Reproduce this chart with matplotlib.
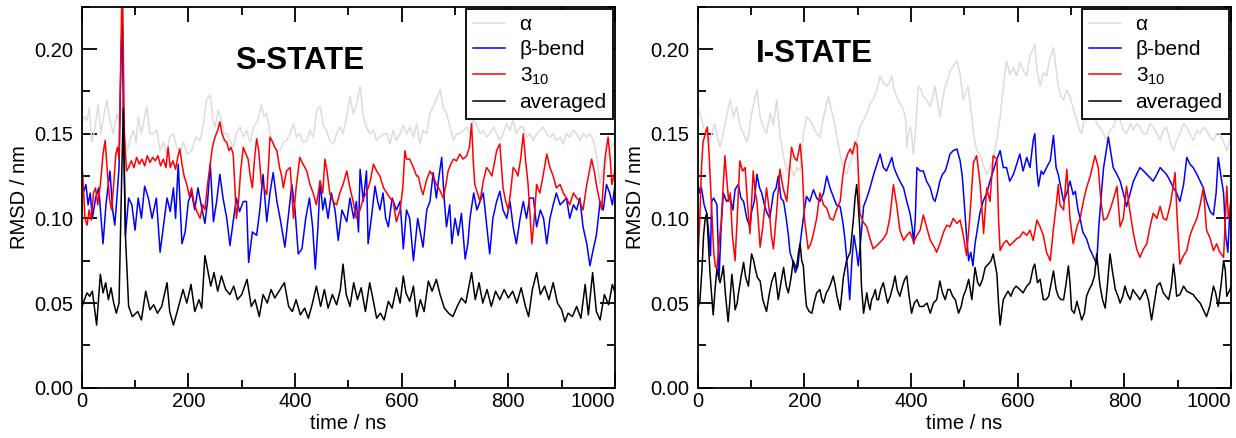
import matplotlib
matplotlib.use("Agg")
import matplotlib.pyplot as plt
from matplotlib.ticker import MultipleLocator, FormatStrFormatter

plt.rcParams['font.family'] = ['Liberation Sans', 'DejaVu Sans']
plt.rcParams['mathtext.fontset'] = 'custom'
plt.rcParams['mathtext.rm'] = 'Liberation Sans'

# ---------------- S-STATE ----------------
s_alpha_t = [0, 5, 10, 14, 19, 24, 31, 36, 41, 47, 53, 59, 66, 72, 76, 80, 86, 92, 97, 102, 106, 112, 117, 122,
             128, 134, 141, 147, 153, 159, 165, 172, 178, 185, 191, 198, 206, 214, 222, 228, 234, 241, 246, 250,
             256, 262, 267, 272, 278, 284, 290, 297, 303, 309, 316, 322, 330, 337, 342, 347, 353, 359, 365, 372,
             378, 384, 391, 397, 403, 409, 415, 422, 428, 434, 441, 447, 453, 459, 465, 472, 478, 484, 490, 497,
             503, 509, 516, 522, 528, 534, 540, 547, 553, 559, 566, 572, 578, 584, 590, 597, 603, 609, 616, 622,
             628, 634, 640, 647, 653, 659, 665, 672, 678, 684, 690, 697, 703, 709, 716, 722, 728, 734, 740, 747,
             753, 759, 765, 772, 778, 784, 790, 797, 803, 809, 815, 822, 828, 834, 840, 847, 853, 859, 865, 872,
             878, 884, 890, 897, 903, 909, 915, 922, 928, 934, 940, 947, 953, 959, 965, 972, 978, 984, 990, 997, 1000]
s_alpha = [0.155, 0.160, 0.158, 0.165, 0.145, 0.152, 0.167, 0.150, 0.160, 0.170, 0.158, 0.150, 0.162, 0.155, 0.170,
           0.150, 0.140, 0.148, 0.152, 0.145, 0.160, 0.150, 0.158, 0.166, 0.150, 0.150, 0.152, 0.140, 0.145, 0.138,
           0.148, 0.150, 0.142, 0.140, 0.145, 0.138, 0.140, 0.148, 0.146, 0.155, 0.170, 0.173, 0.158, 0.154, 0.164,
           0.158, 0.150, 0.150, 0.146, 0.142, 0.150, 0.154, 0.148, 0.152, 0.145, 0.154, 0.158, 0.167, 0.160, 0.162,
           0.150, 0.144, 0.140, 0.140, 0.145, 0.146, 0.150, 0.156, 0.148, 0.150, 0.145, 0.146, 0.152, 0.148, 0.164,
           0.166, 0.155, 0.152, 0.146, 0.144, 0.150, 0.154, 0.150, 0.160, 0.172, 0.162, 0.168, 0.178, 0.160, 0.154,
           0.150, 0.152, 0.146, 0.148, 0.150, 0.150, 0.144, 0.152, 0.146, 0.150, 0.155, 0.150, 0.154, 0.148, 0.156,
           0.144, 0.152, 0.150, 0.162, 0.166, 0.170, 0.176, 0.165, 0.162, 0.155, 0.146, 0.150, 0.150, 0.152, 0.154,
           0.150, 0.158, 0.156, 0.150, 0.152, 0.148, 0.150, 0.154, 0.150, 0.146, 0.150, 0.156, 0.152, 0.158, 0.150,
           0.154, 0.154, 0.148, 0.150, 0.146, 0.150, 0.152, 0.154, 0.150, 0.148, 0.150, 0.146, 0.148, 0.144, 0.150,
           0.148, 0.152, 0.150, 0.146, 0.150, 0.148, 0.150, 0.146, 0.138, 0.120, 0.130, 0.134, 0.140, 0.144, 0.146]

s_beta_t = [0, 4, 8, 12, 16, 20, 26, 32, 40, 46, 53, 58, 62, 66, 70, 74, 76, 79, 82, 88, 94, 100, 106, 112, 118,
            125, 132, 140, 147, 153, 160, 166, 172, 176, 181, 188, 194, 200, 206, 212, 218, 224, 231, 236, 241, 247,
            253, 259, 265, 272, 278, 284, 290, 296, 303, 309, 313, 320, 328, 334, 340, 347, 353, 359, 366, 372, 381,
            387, 394, 400, 406, 413, 420, 427, 433, 438, 443, 447, 452, 456, 462, 468, 475, 481, 488, 497, 503, 510,
            515, 519, 522, 528, 534, 537, 543, 550, 555, 559, 565, 570, 575, 582, 590, 597, 603, 609, 615, 622, 630,
            640, 647, 653, 659, 665, 670, 675, 680, 684, 690, 694, 700, 706, 712, 719, 724, 728, 735, 741, 747, 753,
            758, 765, 771, 778, 784, 790, 797, 803, 809, 815, 822, 828, 834, 840, 847, 853, 860, 866, 872, 878, 884,
            890, 897, 903, 909, 915, 922, 928, 934, 940, 947, 953, 958, 965, 972, 978, 984, 990, 995, 1000]
s_beta = [0.120, 0.116, 0.120, 0.108, 0.115, 0.100, 0.112, 0.118, 0.085, 0.110, 0.128, 0.105, 0.096, 0.112, 0.130,
          0.200, 0.215, 0.140, 0.090, 0.112, 0.108, 0.093, 0.112, 0.100, 0.119, 0.112, 0.100, 0.112, 0.080, 0.095,
          0.112, 0.104, 0.118, 0.100, 0.132, 0.085, 0.092, 0.110, 0.115, 0.105, 0.118, 0.108, 0.097, 0.110, 0.132,
          0.098, 0.110, 0.126, 0.112, 0.100, 0.084, 0.098, 0.112, 0.104, 0.110, 0.110, 0.074, 0.092, 0.090, 0.105,
          0.126, 0.098, 0.115, 0.127, 0.110, 0.100, 0.083, 0.100, 0.120, 0.105, 0.079, 0.082, 0.100, 0.112, 0.095,
          0.070, 0.095, 0.122, 0.105, 0.112, 0.100, 0.115, 0.105, 0.087, 0.105, 0.098, 0.112, 0.100, 0.110, 0.092,
          0.129, 0.110, 0.128, 0.085, 0.100, 0.119, 0.110, 0.105, 0.115, 0.100, 0.095, 0.112, 0.105, 0.110, 0.082,
          0.105, 0.100, 0.075, 0.100, 0.083, 0.105, 0.110, 0.127, 0.112, 0.125, 0.136, 0.110, 0.095, 0.108, 0.085,
          0.100, 0.090, 0.103, 0.076, 0.085, 0.100, 0.115, 0.105, 0.110, 0.115, 0.100, 0.079, 0.100, 0.110, 0.116,
          0.105, 0.100, 0.110, 0.095, 0.085, 0.100, 0.110, 0.100, 0.112, 0.112, 0.095, 0.105, 0.100, 0.085, 0.100,
          0.108, 0.115, 0.108, 0.110, 0.112, 0.100, 0.108, 0.105, 0.112, 0.095, 0.085, 0.072, 0.080, 0.090, 0.110,
          0.105, 0.120, 0.115, 0.108, 0.120]

s_310_t = [0, 3, 6, 10, 14, 18, 22, 26, 30, 35, 40, 44, 48, 52, 56, 60, 64, 67, 70, 73, 75, 77, 80, 84, 88, 93, 98,
           103, 108, 113, 118, 123, 128, 133, 138, 143, 148, 153, 158, 162, 166, 171, 176, 180, 184, 188, 192, 197,
           202, 206, 210, 216, 222, 227, 231, 236, 240, 245, 250, 255, 259, 263, 268, 272, 276, 280, 284, 287, 290,
           294, 298, 303, 308, 312, 316, 320, 324, 328, 332, 337, 342, 347, 350, 353, 358, 362, 366, 371, 375, 378,
           384, 391, 397, 402, 409, 415, 422, 428, 434, 440, 447, 452, 456, 460, 465, 471, 478, 484, 490, 497, 503,
           509, 515, 522, 528, 534, 541, 547, 553, 559, 566, 572, 578, 584, 590, 597, 602, 606, 609, 615, 622, 628,
           631, 636, 640, 646, 653, 659, 665, 671, 678, 683, 687, 692, 697, 703, 709, 715, 722, 727, 731, 734, 737,
           742, 747, 753, 759, 764, 769, 774, 778, 784, 790, 795, 800, 805, 809, 814, 818, 823, 828, 832, 837, 841,
           844, 848, 853, 859, 865, 872, 878, 884, 890, 897, 903, 909, 915, 922, 928, 934, 940, 947, 952, 956, 961,
           965, 970, 975, 981, 987, 991, 994, 998, 1000]
s_310 = [0.135, 0.120, 0.100, 0.096, 0.105, 0.099, 0.115, 0.118, 0.108, 0.120, 0.138, 0.146, 0.128, 0.112, 0.105,
         0.120, 0.138, 0.142, 0.135, 0.190, 0.226, 0.226, 0.150, 0.128, 0.130, 0.134, 0.130, 0.136, 0.132, 0.135,
         0.131, 0.137, 0.133, 0.136, 0.134, 0.137, 0.131, 0.135, 0.130, 0.142, 0.130, 0.134, 0.129, 0.136, 0.141,
         0.132, 0.125, 0.120, 0.113, 0.118, 0.110, 0.104, 0.100, 0.108, 0.105, 0.120, 0.130, 0.142, 0.148, 0.152,
         0.157, 0.150, 0.146, 0.145, 0.140, 0.142, 0.138, 0.120, 0.100, 0.110, 0.128, 0.142, 0.138, 0.135, 0.125,
         0.118, 0.135, 0.147, 0.140, 0.120, 0.118, 0.114, 0.130, 0.148, 0.145, 0.142, 0.140, 0.130, 0.125, 0.118,
         0.128, 0.130, 0.100, 0.118, 0.136, 0.132, 0.128, 0.120, 0.115, 0.108, 0.122, 0.115, 0.135, 0.128, 0.115,
         0.110, 0.108, 0.115, 0.120, 0.128, 0.118, 0.110, 0.100, 0.105, 0.112, 0.115, 0.122, 0.132, 0.128, 0.125,
         0.118, 0.115, 0.112, 0.110, 0.098, 0.105, 0.118, 0.140, 0.135, 0.135, 0.130, 0.125, 0.125, 0.118, 0.114,
         0.122, 0.128, 0.125, 0.120, 0.117, 0.112, 0.120, 0.128, 0.132, 0.135, 0.134, 0.138, 0.135, 0.137, 0.142,
         0.156, 0.135, 0.120, 0.115, 0.110, 0.122, 0.130, 0.128, 0.125, 0.133, 0.140, 0.144, 0.118, 0.110, 0.105,
         0.118, 0.130, 0.128, 0.125, 0.135, 0.150, 0.135, 0.120, 0.100, 0.085, 0.098, 0.120, 0.115, 0.125, 0.138,
         0.130, 0.125, 0.118, 0.120, 0.115, 0.112, 0.108, 0.115, 0.112, 0.110, 0.105, 0.120, 0.128, 0.135, 0.128,
         0.120, 0.112, 0.105, 0.135, 0.148, 0.135, 0.120, 0.125, 0.130]

s_avg_t = [0, 5, 10, 15, 20, 28, 35, 40, 45, 50, 55, 60, 65, 70, 75, 78, 82, 88, 95, 105, 112, 120, 128, 135, 142,
           150, 160, 165, 172, 180, 190, 197, 205, 212, 220, 225, 231, 236, 242, 248, 255, 262, 270, 278, 285, 292,
           300, 310, 318, 325, 333, 340, 348, 355, 362, 370, 380, 388, 395, 402, 410, 418, 425, 432, 440, 448, 455,
           462, 470, 478, 485, 490, 496, 503, 510, 517, 524, 532, 540, 547, 553, 560, 567, 575, 582, 590, 597, 603,
           608, 615, 622, 628, 635, 642, 650, 657, 665, 672, 680, 688, 696, 704, 712, 720, 731, 738, 745, 752, 760,
           768, 776, 784, 792, 800, 808, 816, 824, 832, 838, 845, 853, 860, 868, 876, 884, 892, 900, 906, 912, 920,
           928, 936, 944, 950, 958, 965, 972, 980, 988, 995, 1000]
s_avg = [0.047, 0.052, 0.056, 0.054, 0.057, 0.037, 0.067, 0.056, 0.062, 0.052, 0.059, 0.050, 0.044, 0.050, 0.125,
         0.165, 0.090, 0.048, 0.042, 0.045, 0.040, 0.057, 0.046, 0.049, 0.044, 0.048, 0.062, 0.045, 0.037, 0.046,
         0.058, 0.050, 0.061, 0.045, 0.052, 0.047, 0.078, 0.070, 0.060, 0.068, 0.057, 0.066, 0.058, 0.055, 0.060,
         0.052, 0.055, 0.064, 0.048, 0.052, 0.042, 0.055, 0.050, 0.058, 0.053, 0.057, 0.062, 0.048, 0.045, 0.052,
         0.043, 0.047, 0.041, 0.049, 0.060, 0.048, 0.058, 0.047, 0.055, 0.049, 0.058, 0.073, 0.055, 0.048, 0.062,
         0.052, 0.059, 0.045, 0.062, 0.051, 0.041, 0.044, 0.040, 0.051, 0.047, 0.059, 0.050, 0.066, 0.056, 0.051,
         0.060, 0.042, 0.052, 0.045, 0.063, 0.057, 0.064, 0.055, 0.047, 0.044, 0.042, 0.048, 0.053, 0.050, 0.068,
         0.052, 0.062, 0.050, 0.058, 0.048, 0.057, 0.052, 0.058, 0.053, 0.057, 0.050, 0.059, 0.048, 0.042, 0.058,
         0.068, 0.055, 0.060, 0.052, 0.062, 0.050, 0.046, 0.039, 0.044, 0.042, 0.048, 0.041, 0.061, 0.043, 0.068,
         0.045, 0.040, 0.055, 0.049, 0.061, 0.056]

# ---------------- I-STATE ----------------
i_alpha_t = [0, 6, 11, 17, 23, 28, 32, 37, 42, 48, 55, 61, 67, 73, 79, 86, 92, 95, 100, 105, 111, 117, 123, 129,
             136, 142, 148, 154, 160, 167, 173, 180, 186, 192, 198, 204, 210, 217, 223, 229, 236, 242, 245, 250,
             254, 260, 267, 273, 279, 285, 292, 298, 304, 311, 317, 323, 329, 336, 342, 348, 354, 359, 364, 368,
             373, 379, 386, 390, 392, 395, 398, 401, 404, 408, 411, 414, 419, 423, 429, 436, 441, 445, 450, 454,
             459, 464, 469, 473, 479, 486, 492, 498, 503, 507, 512, 517, 523, 529, 535, 542, 548, 554, 560, 567,
             573, 579, 585, 592, 598, 604, 610, 617, 623, 629, 632, 636, 642, 648, 654, 660, 667, 672, 676, 681,
             686, 692, 698, 704, 711, 716, 720, 725, 729, 736, 742, 748, 754, 761, 767, 773, 779, 786, 792, 798,
             804, 811, 817, 823, 829, 836, 842, 848, 854, 861, 867, 873, 879, 886, 892, 898, 904, 911, 917, 923,
             929, 936, 942, 948, 954, 961, 967, 973, 979, 986, 992, 998, 1000]
i_alpha = [0.166, 0.160, 0.154, 0.150, 0.146, 0.152, 0.156, 0.148, 0.142, 0.150, 0.162, 0.170, 0.160, 0.166, 0.155,
           0.150, 0.145, 0.148, 0.160, 0.168, 0.176, 0.160, 0.154, 0.150, 0.162, 0.155, 0.170, 0.150, 0.138, 0.128,
           0.132, 0.125, 0.130, 0.128, 0.150, 0.160, 0.158, 0.154, 0.150, 0.148, 0.160, 0.168, 0.172, 0.165, 0.160,
           0.150, 0.138, 0.130, 0.126, 0.132, 0.138, 0.145, 0.154, 0.158, 0.162, 0.168, 0.170, 0.176, 0.184, 0.180,
           0.178, 0.180, 0.184, 0.176, 0.172, 0.168, 0.164, 0.158, 0.142, 0.150, 0.154, 0.150, 0.138, 0.150, 0.166,
           0.178, 0.176, 0.172, 0.170, 0.166, 0.172, 0.178, 0.168, 0.160, 0.170, 0.178, 0.182, 0.187, 0.190, 0.193,
           0.185, 0.170, 0.175, 0.178, 0.165, 0.150, 0.140, 0.138, 0.132, 0.126, 0.130, 0.135, 0.145, 0.160, 0.178,
           0.193, 0.185, 0.189, 0.184, 0.192, 0.188, 0.184, 0.196, 0.200, 0.203, 0.188, 0.178, 0.186, 0.184, 0.194,
           0.201, 0.188, 0.178, 0.172, 0.170, 0.176, 0.172, 0.165, 0.158, 0.152, 0.150, 0.160, 0.158, 0.162, 0.164,
           0.156, 0.154, 0.150, 0.146, 0.152, 0.154, 0.160, 0.158, 0.152, 0.150, 0.156, 0.152, 0.156, 0.154, 0.150,
           0.150, 0.156, 0.154, 0.150, 0.146, 0.152, 0.154, 0.145, 0.140, 0.146, 0.150, 0.156, 0.154, 0.150, 0.146,
           0.152, 0.150, 0.154, 0.152, 0.148, 0.146, 0.150, 0.150, 0.145, 0.140, 0.146, 0.150]

i_beta_t = [0, 4, 7, 12, 17, 21, 24, 26, 30, 36, 40, 44, 48, 54, 61, 66, 70, 76, 81, 86, 92, 98, 101, 106, 111,
            116, 120, 125, 129, 135, 142, 147, 151, 156, 161, 166, 170, 173, 178, 183, 188, 192, 196, 200, 204,
            210, 217, 223, 229, 236, 242, 248, 254, 260, 267, 272, 276, 281, 285, 289, 293, 297, 301, 305, 311,
            317, 323, 329, 336, 342, 348, 354, 359, 364, 368, 373, 379, 386, 392, 398, 402, 405, 408, 411, 417,
            423, 429, 436, 441, 445, 450, 454, 459, 464, 468, 473, 479, 486, 492, 496, 500, 504, 508, 512, 516,
            520, 525, 529, 535, 542, 548, 554, 560, 567, 573, 579, 585, 592, 598, 604, 610, 617, 623, 629, 632,
            636, 639, 644, 648, 654, 661, 667, 672, 676, 681, 686, 692, 698, 704, 708, 713, 717, 722, 729, 735,
            741, 748, 752, 757, 761, 766, 770, 775, 779, 786, 792, 798, 804, 811, 817, 823, 829, 836, 842, 848,
            854, 861, 867, 873, 879, 886, 892, 898, 904, 911, 917, 923, 929, 936, 942, 948, 954, 961, 967, 972,
            976, 981, 986, 990, 994, 997, 1000]
i_beta = [0.121, 0.115, 0.118, 0.108, 0.103, 0.090, 0.078, 0.110, 0.112, 0.108, 0.065, 0.095, 0.115, 0.110, 0.112,
          0.105, 0.117, 0.120, 0.112, 0.110, 0.100, 0.095, 0.104, 0.110, 0.126, 0.118, 0.115, 0.108, 0.104, 0.100,
          0.115, 0.118, 0.125, 0.112, 0.110, 0.100, 0.090, 0.080, 0.075, 0.068, 0.072, 0.085, 0.095, 0.105, 0.113,
          0.110, 0.117, 0.112, 0.110, 0.115, 0.125, 0.118, 0.113, 0.108, 0.107, 0.098, 0.088, 0.070, 0.052, 0.075,
          0.090, 0.082, 0.072, 0.085, 0.107, 0.112, 0.118, 0.125, 0.132, 0.138, 0.130, 0.128, 0.132, 0.136, 0.130,
          0.126, 0.122, 0.118, 0.110, 0.103, 0.095, 0.085, 0.100, 0.130, 0.128, 0.128, 0.122, 0.118, 0.112, 0.110,
          0.116, 0.122, 0.126, 0.128, 0.132, 0.138, 0.140, 0.141, 0.134, 0.125, 0.108, 0.090, 0.075, 0.080, 0.072,
          0.085, 0.095, 0.103, 0.110, 0.115, 0.122, 0.128, 0.134, 0.140, 0.130, 0.130, 0.122, 0.126, 0.132, 0.138,
          0.128, 0.136, 0.130, 0.146, 0.150, 0.128, 0.119, 0.128, 0.126, 0.130, 0.134, 0.149, 0.130, 0.126, 0.118,
          0.110, 0.115, 0.122, 0.114, 0.116, 0.105, 0.100, 0.092, 0.088, 0.082, 0.078, 0.073, 0.095, 0.115, 0.130,
          0.140, 0.148, 0.138, 0.130, 0.126, 0.122, 0.115, 0.107, 0.115, 0.122, 0.126, 0.130, 0.128, 0.126, 0.124,
          0.122, 0.126, 0.130, 0.128, 0.126, 0.122, 0.118, 0.115, 0.110, 0.120, 0.136, 0.132, 0.130, 0.126, 0.122,
          0.118, 0.110, 0.104, 0.102, 0.115, 0.136, 0.125, 0.115, 0.090, 0.080, 0.100, 0.112]

i_310_t = [0, 4, 7, 10, 14, 18, 21, 24, 27, 30, 33, 36, 40, 44, 48, 51, 54, 58, 61, 65, 70, 74, 79, 84, 89, 93,
           98, 104, 108, 111, 117, 122, 129, 134, 138, 142, 147, 154, 160, 167, 171, 176, 181, 186, 192, 196, 200,
           204, 207, 212, 217, 223, 229, 236, 242, 248, 254, 260, 267, 272, 276, 281, 286, 290, 295, 299, 302, 304,
           310, 317, 323, 329, 336, 342, 348, 354, 360, 367, 373, 379, 386, 392, 398, 405, 411, 417, 423, 429, 436,
           442, 448, 454, 461, 467, 473, 479, 486, 492, 498, 504, 510, 517, 523, 529, 533, 536, 542, 548, 554, 561,
           564, 567, 573, 579, 585, 592, 598, 604, 610, 617, 623, 629, 636, 642, 648, 654, 661, 667, 673, 676, 679,
           686, 692, 698, 704, 711, 717, 723, 729, 736, 745, 751, 756, 761, 767, 773, 780, 786, 792, 798, 804, 810,
           817, 823, 829, 836, 842, 848, 854, 861, 867, 873, 879, 886, 892, 895, 899, 904, 911, 917, 923, 929, 936,
           942, 948, 954, 961, 967, 973, 979, 986, 992, 995, 1000]
i_310 = [0.074, 0.100, 0.130, 0.145, 0.150, 0.154, 0.140, 0.120, 0.100, 0.080, 0.072, 0.070, 0.085, 0.098, 0.120,
         0.137, 0.125, 0.110, 0.115, 0.090, 0.075, 0.100, 0.134, 0.128, 0.130, 0.110, 0.091, 0.128, 0.115, 0.110,
         0.083, 0.095, 0.118, 0.105, 0.090, 0.082, 0.100, 0.129, 0.118, 0.110, 0.125, 0.142, 0.136, 0.134, 0.144,
         0.130, 0.100, 0.090, 0.082, 0.085, 0.091, 0.100, 0.115, 0.108, 0.106, 0.100, 0.099, 0.105, 0.110, 0.125,
         0.133, 0.138, 0.141, 0.138, 0.145, 0.143, 0.120, 0.103, 0.098, 0.095, 0.088, 0.082, 0.084, 0.086, 0.088,
         0.091, 0.100, 0.120, 0.108, 0.093, 0.087, 0.090, 0.092, 0.086, 0.090, 0.093, 0.102, 0.095, 0.087, 0.084,
         0.080, 0.085, 0.092, 0.096, 0.095, 0.100, 0.097, 0.099, 0.090, 0.078, 0.100, 0.133, 0.137, 0.122, 0.105,
         0.091, 0.118, 0.110, 0.137, 0.135, 0.100, 0.081, 0.085, 0.087, 0.084, 0.086, 0.088, 0.089, 0.092, 0.090,
         0.093, 0.087, 0.099, 0.095, 0.090, 0.080, 0.075, 0.094, 0.110, 0.120, 0.108, 0.105, 0.129, 0.100, 0.085,
         0.095, 0.100, 0.110, 0.118, 0.125, 0.137, 0.130, 0.110, 0.099, 0.100, 0.105, 0.112, 0.119, 0.095, 0.100,
         0.119, 0.105, 0.091, 0.082, 0.077, 0.082, 0.085, 0.095, 0.103, 0.100, 0.107, 0.100, 0.099, 0.108, 0.120,
         0.127, 0.100, 0.073, 0.078, 0.081, 0.090, 0.095, 0.100, 0.108, 0.118, 0.093, 0.088, 0.081, 0.085, 0.080,
         0.077, 0.119, 0.100, 0.110]

i_avg_t = [0, 4, 8, 11, 14, 17, 20, 23, 26, 29, 33, 36, 40, 42, 46, 48, 52, 57, 60, 64, 68, 70, 74, 76, 81, 86, 90,
           95, 98, 101, 105, 108, 112, 117, 122, 126, 129, 134, 139, 145, 148, 151, 156, 161, 166, 170, 175, 179,
           185, 189, 192, 195, 198, 201, 204, 209, 214, 218, 223, 229, 233, 236, 241, 245, 250, 254, 258, 261, 264,
           267, 270, 273, 276, 279, 283, 286, 289, 292, 295, 298, 301, 304, 307, 311, 314, 317, 320, 323, 326, 329,
           333, 336, 339, 343, 348, 352, 356, 361, 366, 370, 374, 379, 384, 388, 392, 396, 401, 406, 411, 416, 423,
           430, 436, 442, 448, 454, 459, 464, 469, 473, 478, 483, 489, 494, 498, 503, 508, 514, 520, 525, 529, 534,
           539, 545, 550, 554, 558, 561, 564, 567, 570, 573, 578, 582, 587, 592, 597, 604, 610, 617, 623, 629, 632,
           637, 642, 648, 653, 658, 663, 667, 672, 676, 681, 686, 690, 695, 698, 701, 706, 711, 716, 720, 725, 729,
           734, 739, 744, 748, 751, 754, 759, 764, 768, 773, 778, 783, 788, 792, 797, 801, 806, 811, 816, 820, 825,
           829, 834, 839, 845, 851, 856, 861, 867, 873, 878, 883, 888, 892, 895, 898, 904, 911, 917, 923, 929, 936,
           942, 948, 954, 960, 967, 971, 976, 981, 986, 989, 992, 995, 998, 1000]
i_avg = [0.047, 0.051, 0.070, 0.090, 0.100, 0.103, 0.085, 0.068, 0.055, 0.043, 0.060, 0.070, 0.064, 0.062, 0.068,
         0.072, 0.055, 0.039, 0.050, 0.067, 0.055, 0.046, 0.050, 0.055, 0.065, 0.074, 0.065, 0.060, 0.070, 0.079,
         0.075, 0.070, 0.065, 0.063, 0.052, 0.048, 0.045, 0.055, 0.063, 0.068, 0.060, 0.052, 0.062, 0.071, 0.060,
         0.056, 0.065, 0.075, 0.070, 0.080, 0.085, 0.075, 0.072, 0.058, 0.048, 0.045, 0.044, 0.050, 0.056, 0.058,
         0.052, 0.050, 0.056, 0.058, 0.062, 0.066, 0.060, 0.054, 0.050, 0.046, 0.055, 0.065, 0.070, 0.075, 0.078,
         0.080, 0.090, 0.100, 0.112, 0.120, 0.108, 0.093, 0.060, 0.044, 0.050, 0.056, 0.050, 0.046, 0.052, 0.054,
         0.058, 0.052, 0.052, 0.058, 0.062, 0.056, 0.050, 0.054, 0.060, 0.066, 0.058, 0.054, 0.060, 0.064, 0.066,
         0.055, 0.044, 0.050, 0.052, 0.048, 0.048, 0.050, 0.044, 0.050, 0.052, 0.063, 0.056, 0.052, 0.058, 0.058,
         0.054, 0.052, 0.044, 0.048, 0.054, 0.058, 0.064, 0.052, 0.071, 0.062, 0.060, 0.064, 0.071, 0.073, 0.075,
         0.079, 0.072, 0.067, 0.050, 0.037, 0.045, 0.052, 0.055, 0.057, 0.054, 0.058, 0.060, 0.058, 0.056, 0.060,
         0.062, 0.071, 0.073, 0.062, 0.064, 0.052, 0.052, 0.054, 0.062, 0.069, 0.058, 0.054, 0.052, 0.052, 0.060,
         0.072, 0.062, 0.046, 0.044, 0.051, 0.045, 0.040, 0.044, 0.054, 0.058, 0.061, 0.066, 0.079, 0.070, 0.061,
         0.052, 0.047, 0.060, 0.079, 0.068, 0.058, 0.054, 0.050, 0.054, 0.060, 0.055, 0.052, 0.058, 0.056, 0.054,
         0.052, 0.055, 0.058, 0.052, 0.040, 0.050, 0.060, 0.062, 0.056, 0.054, 0.052, 0.060, 0.073, 0.065, 0.054,
         0.055, 0.060, 0.057, 0.056, 0.055, 0.052, 0.050, 0.046, 0.042, 0.048, 0.060, 0.056, 0.048, 0.060, 0.075,
         0.070, 0.054, 0.056, 0.058, 0.060]

labels = ['\u03b1', '\u03b2-bend', r'3$_{\mathregular{10}}$', 'averaged']
colors = ['#dcdcdc', '#0000ff', '#ff0000', '#000000']
x_ticks = [0, 200, 400, 600, 800, 1000]

panels = [
    ('S-STATE', 409, 0.1885, [(s_alpha_t, s_alpha), (s_beta_t, s_beta), (s_310_t, s_310), (s_avg_t, s_avg)]),
    ('I-STATE', 218, 0.1924, [(i_alpha_t, i_alpha), (i_beta_t, i_beta), (i_310_t, i_310), (i_avg_t, i_avg)]),
]

fig = plt.figure(figsize=(12.36, 4.38), dpi=100)
lefts = [0.0661, 0.5645]

for left, (title, tx, ty, series) in zip(lefts, panels):
    ax = fig.add_axes([left, 0.1148, 0.4315, 0.8699])
    for (t, v), c, lab in zip(series, colors, labels):
        ax.plot(t, v, color=c, lw=1.1, label=lab)
    ax.set_xlim(0, 1000)
    ax.set_ylim(0, 0.225)
    ax.set_xticks(x_ticks)
    ax.xaxis.set_minor_locator(MultipleLocator(100))
    ax.yaxis.set_major_locator(MultipleLocator(0.05))
    ax.yaxis.set_minor_locator(MultipleLocator(0.025))
    ax.yaxis.set_major_formatter(FormatStrFormatter('%.2f'))
    ax.tick_params(which='both', direction='in', top=True, right=True, width=1.3, labelsize=14.5)
    ax.tick_params(which='major', length=10.8)
    ax.tick_params(which='minor', length=5.8)
    ax.tick_params(axis='x', pad=3)
    ax.tick_params(axis='y', pad=6)
    for sp in ax.spines.values():
        sp.set_linewidth(1.3)
    ax.set_xlabel('time / ns', fontsize=14.5, labelpad=2)
    ax.set_ylabel('RMSD / nm', fontsize=14.5, labelpad=4)
    ax.text(tx, ty, title, fontsize=22.5, fontweight='bold', ha='center', va='baseline')
    leg = ax.legend(loc='upper right', fontsize=15, frameon=True, fancybox=False, framealpha=1,
                    edgecolor='black', borderaxespad=0.1, borderpad=0.3, handlelength=1.55,
                    handletextpad=0.7, labelspacing=0.3)
    leg.get_frame().set_linewidth(1.3)
    fig.canvas.draw()
    ax.get_xticklabels()[-1].set_horizontalalignment('right')

fig.savefig('out.png', dpi=100)
